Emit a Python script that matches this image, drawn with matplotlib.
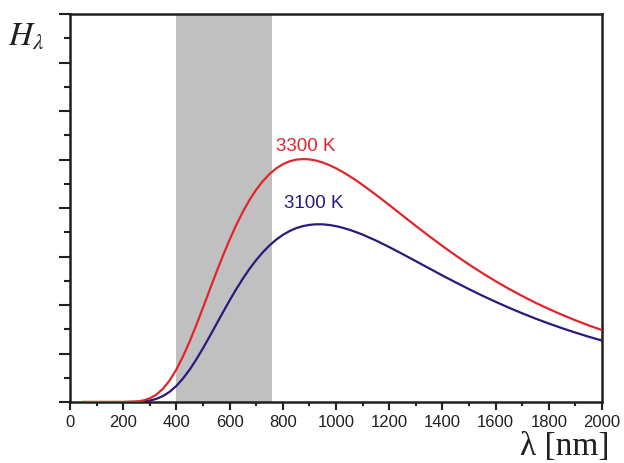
import matplotlib
matplotlib.use("Agg")
import matplotlib.pyplot as plt
from matplotlib.ticker import MultipleLocator

# wavelengths (nm)
wavelength = [50, 100, 150, 200, 250, 275, 300, 325, 350, 375, 400, 425, 450, 475,
              500, 525, 550, 575, 600, 625, 650, 675, 700, 725, 750, 775, 800, 825,
              850, 875, 900, 925, 950, 975, 1000, 1025, 1050, 1075, 1100, 1150, 1200,
              1250, 1300, 1350, 1400, 1450, 1500, 1550, 1600, 1650, 1700, 1750, 1800,
              1850, 1900, 1950, 2000]
h_3300 = [0.0, 0.0, 0.0, 0.0004, 0.010, 0.031, 0.075, 0.153, 0.276, 0.448, 0.671,
          0.941, 1.250, 1.589, 1.946, 2.309, 2.670, 3.018, 3.346, 3.650, 3.924, 4.167,
          4.378, 4.555, 4.701, 4.816, 4.902, 4.962, 4.997, 5.009, 5.002, 4.978, 4.938,
          4.884, 4.819, 4.744, 4.661, 4.571, 4.476, 4.273, 4.062, 3.846, 3.631, 3.421,
          3.217, 3.021, 2.835, 2.658, 2.491, 2.333, 2.186, 2.047, 1.918, 1.798, 1.685,
          1.580, 1.483]
h_3100 = [0.0, 0.0, 0.0, 0.0001, 0.003, 0.011, 0.029, 0.065, 0.124, 0.212, 0.332,
          0.486, 0.669, 0.879, 1.109, 1.352, 1.601, 1.850, 2.094, 2.327, 2.545, 2.746,
          2.927, 3.088, 3.228, 3.347, 3.445, 3.523, 3.584, 3.626, 3.652, 3.664, 3.663,
          3.650, 3.626, 3.593, 3.552, 3.504, 3.451, 3.330, 3.195, 3.051, 2.904, 2.756,
          2.609, 2.466, 2.327, 2.193, 2.066, 1.944, 1.829, 1.720, 1.618, 1.522, 1.431,
          1.346, 1.267]
visible_band = (400, 760)
x_ticks = [0, 200, 400, 600, 800, 1000, 1200, 1400, 1600, 1800, 2000]

red = "#E2252B"
blue = "#2A1A7C"
ink = "#231F20"

plt.rcParams["mathtext.fontset"] = "stix"
fig = plt.figure(figsize=(6.24, 4.64), dpi=100)
ax = fig.add_axes([70/624, 1-403/464, 532/624, 388/464])

ax.axvspan(visible_band[0], visible_band[1], color="#C0C0C0", lw=0, zorder=0)
ax.plot(wavelength, h_3100, color=blue, lw=1.6, zorder=2)
ax.plot(wavelength, h_3300, color=red, lw=1.6, zorder=3)

ax.set_xlim(0, 2000)
ax.set_ylim(0, 8)
ax.set_xticks(x_ticks)
ax.set_xticklabels([str(t) for t in x_ticks], family="Liberation Sans",
                   fontstretch="normal", fontsize=12, color=ink)
ax.xaxis.set_minor_locator(MultipleLocator(100))
ax.yaxis.set_major_locator(MultipleLocator(1))
ax.yaxis.set_minor_locator(MultipleLocator(0.5))
ax.set_yticklabels([])
ax.tick_params(axis="both", which="both", direction="out", color=ink, width=1.5)
ax.tick_params(axis="x", which="major", length=6, pad=3)
ax.tick_params(axis="x", which="minor", length=3)
ax.tick_params(axis="y", which="major", length=8)
ax.tick_params(axis="y", which="minor", length=4)
for s in ax.spines.values():
    s.set_linewidth(1.8)
    s.set_color(ink)

ax.text(885, 5.11, "3300 K", color=red, family="Liberation Sans", fontstretch="normal",
        fontsize=13.5, ha="center", va="bottom")
ax.text(917, 3.93, "3100 K", color=blue, family="Liberation Sans", fontstretch="normal",
        fontsize=13.5, ha="center", va="bottom")

fig.text(8/624, 1-35/464, r"$H_{\lambda}$", fontsize=24, color=ink, va="center", ha="left")
fig.text(609/624, 1-447/464, "λ [nm]", family="Liberation Serif", fontsize=24,
         color=ink, ha="right", va="center")

fig.savefig("out.png", dpi=100)
